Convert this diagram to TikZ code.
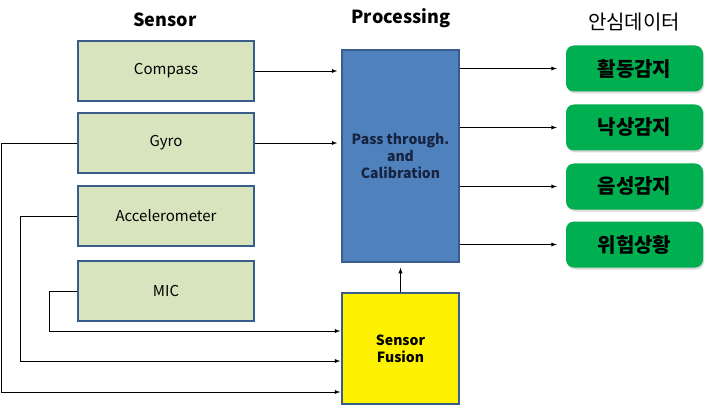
\documentclass[tikz,border=0pt]{standalone}
\usepackage{fontspec}
\setmainfont{Noto Sans CJK KR}
\newfontfamily\kor{Noto Sans CJK KR}
\usetikzlibrary{shadows}

\definecolor{sensorfill}{RGB}{215,228,189}
\definecolor{boxline}{RGB}{56,93,138}
\definecolor{procfill}{RGB}{79,129,189}
\definecolor{proctext}{RGB}{22,36,64}
\definecolor{outfill}{RGB}{0,176,80}

\tikzset{
    sensorbox/.style={draw=boxline, line width=1.5pt, fill=sensorfill,
        minimum width=176pt, minimum height=60pt,
        font=\fontsize{15}{17}\selectfont},
    procbox/.style={draw=boxline, line width=1.5pt, minimum width=117pt,
        align=center, font=\bfseries\fontsize{14}{17}\selectfont},
    outbox/.style={fill=outfill, rounded corners=8pt, minimum width=137pt,
        minimum height=46pt, font=\kor\bfseries\fontsize{20}{22}\selectfont,
        drop shadow={shadow xshift=1pt, shadow yshift=-2pt, opacity=0.3}},
    coltitle/.style={font=\bfseries\fontsize{18}{20}\selectfont},
    wire/.style={line width=0.9pt, -latex},
}

\begin{document}
\begin{tikzpicture}[x=1pt, y=-1pt]
    \useasboundingbox (0,0) rectangle (709,406);

    % column titles
    \node [coltitle] (sensortitle) at (165,20) {Sensor};
    \node [coltitle] (proctitle) at (401,18) {Processing};
    \node [font=\kor\fontsize{20}{22}\selectfont] (outtitle) at (634,22) {안심데이터};

    % sensors
    \node [sensorbox] (compass) at (166,71) {Compass};
    \node [sensorbox] (gyro) at (166,143) {Gyro};
    \node [sensorbox] (accel) at (166,216) {Accelerometer};
    \node [sensorbox] (mic) at (166,291) {MIC};

    % processing
    \node [procbox, fill=procfill, text=proctext, minimum height=212pt] (proc) at (400.5,156)
        {Pass through.\\and\\Calibration};
    \node [procbox, fill=yellow, minimum height=111pt] (fusion) at (400.5,348.5)
        {Sensor\\Fusion};

    % outputs
    \node [outbox] (activity) at (634.5,68.5) {활동감지};
    \node [outbox] (fall) at (634.5,127.5) {낙상감지};
    \node [outbox] (voice) at (634.5,186.5) {음성감지};
    \node [outbox] (danger) at (634.5,244.5) {위험상황};

    % bends on the left
    \coordinate (gyrobend) at (1,392);
    \coordinate (accelbend) at (20,361);
    \coordinate (micbend) at (49,331);

    \draw [wire, shorten >=4pt] (compass) -- (compass -| proc.west);
    \draw [wire, shorten >=4pt] (gyro) -- (gyro -| proc.west);
    \draw [wire, shorten >=5pt] (fusion) -- (proc);

    \draw [wire, shorten >=1pt] (gyro.west) -| (gyrobend) -- (gyrobend -| fusion.west);
    \draw [wire, shorten >=1pt] (accel.west) -| (accelbend) -- (accelbend -| fusion.west);
    \draw [wire, shorten >=1pt] (mic.west) -| (micbend) -- (micbend -| fusion.west);

    \draw [wire, shorten >=9pt] (proc.east |- activity) -- (activity.west);
    \draw [wire, shorten >=9pt] (proc.east |- fall) -- (fall.west);
    \draw [wire, shorten >=9pt] (proc.east |- voice) -- (voice.west);
    \draw [wire, shorten >=9pt] (proc.east |- danger) -- (danger.west);
\end{tikzpicture}
\end{document}
